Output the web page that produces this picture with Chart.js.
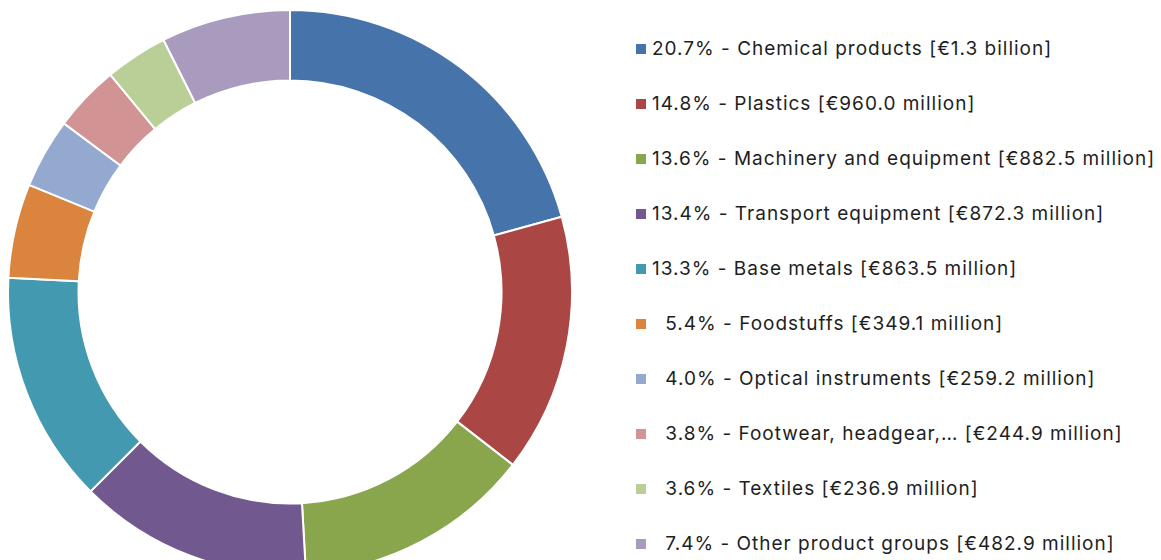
<!DOCTYPE html>
<html>
<head>
<meta charset="utf-8">
<script src="https://cdn.jsdelivr.net/npm/chart.js@4.4.1/dist/chart.umd.min.js"></script>
<style>
    html, body { margin: 0; padding: 0; background: #fff; overflow: hidden; }
    #wrap { position: relative; width: 1161px; height: 560px; overflow: hidden; }
    #chartBox { position: absolute; left: 0; top: 0; width: 580px; height: 584px; }
    #legend { position: absolute; left: 636px; top: 0; margin: 0; padding: 0; list-style: none;
              font-family: Inter, "Noto Sans", sans-serif; font-size: 19px; letter-spacing: 1px; color: #1e1e1e; }
    #legend li { position: absolute; left: 0; white-space: pre; height: 22px; line-height: 22px;
                 display: flex; align-items: center; }
    #legend .box { display: inline-block; width: 10px; height: 10px; margin-right: 6px; }
</style>
</head>
<body>
<div id="wrap">
    <div id="chartBox"><canvas id="pieChart"></canvas></div>
    <ul id="legend"></ul>
</div>
<script>
// product groups, share in %, value text
const groups = ['Chemical products', 'Plastics', 'Machinery and equipment', 'Transport equipment',
    'Base metals', 'Foodstuffs', 'Optical instruments', 'Footwear, headgear,…', 'Textiles', 'Other product groups'];
const shares = [20.7, 14.8, 13.6, 13.4, 13.3, 5.4, 4.0, 3.8, 3.6, 7.4];
const amounts = ['€1.3 billion', '€960.0 million', '€882.5 million', '€872.3 million', '€863.5 million',
    '€349.1 million', '€259.2 million', '€244.9 million', '€236.9 million', '€482.9 million'];
const colors = ['#4674aa', '#aa4744', '#89a64d', '#71598f', '#4299b0', '#db843d',
    '#93a9cf', '#d19393', '#b9cf97', '#a99bbe'];

document.addEventListener('DOMContentLoaded', function() {
    const ctx = document.getElementById('pieChart').getContext('2d');
    new Chart(ctx, {
        type: 'doughnut',
        data: {
            labels: groups,
            datasets: [{
                data: shares,
                backgroundColor: colors,
                borderColor: '#ffffff',
                borderWidth: 2,
                radius: 282,
                cutout: '75%'
            }]
        },
        options: {
            responsive: true,
            maintainAspectRatio: false,
            animation: false,
            plugins: {
                legend: { display: false },
                tooltip: { enabled: false }
            }
        }
    });

    // legend list, single digit shares get a figure space in front
    const ul = document.getElementById('legend');
    groups.forEach((g, i) => {
        const pct = shares[i].toFixed(1);
        const pad = shares[i] < 10 ? '\u2007' : '';
        const li = document.createElement('li');
        li.style.top = (49 + i * 55 - 11) + 'px';
        const box = document.createElement('span');
        box.className = 'box';
        box.style.background = colors[i];
        li.appendChild(box);
        li.appendChild(document.createTextNode(pad + pct + '% - ' + g + ' [' + amounts[i] + ']'));
        ul.appendChild(li);
    });
});
</script>
</body>
</html>
